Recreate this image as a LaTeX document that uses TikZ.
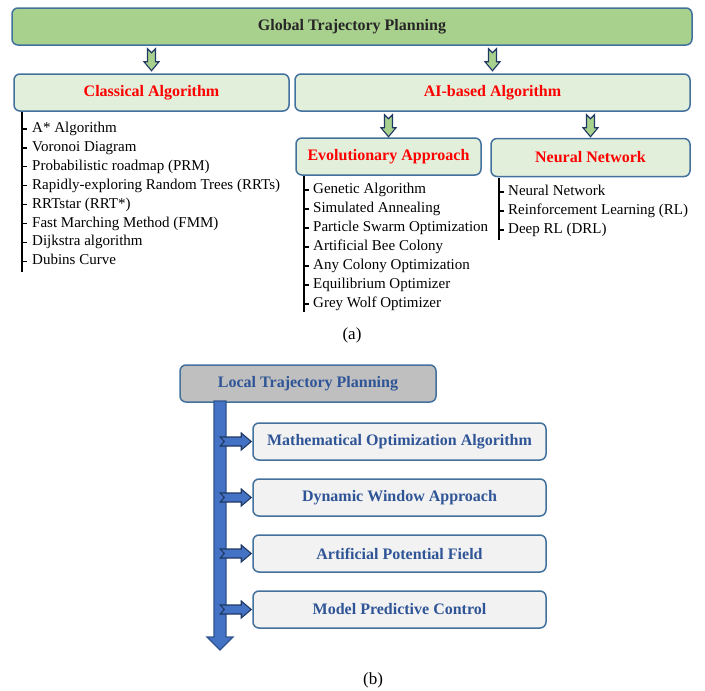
\documentclass[tikz,border=0pt]{standalone}
\usepackage{fontspec}
\setmainfont{Liberation Serif}
\usetikzlibrary{positioning, calc}
\definecolor{tpgreen}{HTML}{A9D18E}
\definecolor{tplight}{HTML}{E2EFDA}
\definecolor{tpedge}{HTML}{41719C}
\definecolor{tpgray}{HTML}{BFBFBF}
\definecolor{tpsoft}{HTML}{F2F2F2}
\definecolor{tpblue}{HTML}{4472C4}
\definecolor{tpnavy}{HTML}{2F528F}
\definecolor{tptext}{HTML}{2F5597}
\definecolor{tpdark}{HTML}{203864}

\begin{document}
\begin{tikzpicture}[x=1pt, y=-1pt,
    box/.style={rectangle, rounded corners=6pt, draw=tpedge, line width=1.5pt, fill=#1, font=\fontsize{16}{19}\selectfont\bfseries, align=center, inner sep=0pt},
    item/.style={anchor=west, inner sep=0pt, text height=10.5pt, text depth=3.5pt, font=\fontsize{15}{18}\selectfont},
    tree/.style={line width=1.3pt},
    downarr/.pic={\draw[fill=tpgreen, draw=tpdark, line width=1.1pt, line join=miter]
        (-4,0) -- (0,4) -- (4,0) -- (4,13) -- (7.5,13) -- (0,22) -- (-7.5,13) -- (-4,13) -- cycle;},
    rightarr/.pic={\draw[fill=tpblue, draw=tpdark, line width=1.1pt, line join=miter]
        (0,-4.5) -- (21,-4.5) -- (21,-8.5) -- (31,0) -- (21,8.5) -- (21,4.5) -- (0,4.5) -- (4,0) -- cycle;}
]
\useasboundingbox (0,0) rectangle (705,691);

% (a) Global planning
\node[box=tpgreen, minimum width=680pt, minimum height=37pt, text=black!85] (glob) at (352,26.5) {Global Trajectory Planning};
\node[box=tplight, minimum width=275pt, minimum height=37pt, text=red] (clas) at (151.5,92.5) {Classical Algorithm};
\node[box=tplight, minimum width=395pt, minimum height=37pt, text=red] (aib) at (492.5,92.5) {AI-based Algorithm};
\node[box=tplight, minimum width=185pt, minimum height=37pt, text=red] (evol) at (388.5,156.5) {Evolutionary Approach};
\node[box=tplight, minimum width=199pt, minimum height=38pt, text=red] (neur) at (590.5,157.5) {Neural Network};

\pic at ($(glob.south -| clas)+(0,3)$) {downarr};
\pic at ($(glob.south -| aib)+(0,3)$) {downarr};
\pic at ($(aib.south -| evol)+(0,3)$) {downarr};
\pic at ($(aib.south -| neur)+(0,3)$) {downarr};

% Lists
\draw[tree] (22,112) -- (22,272);
\foreach \t [count=\i] in {A* Algorithm, Voronoi Diagram, Probabilistic roadmap (PRM), Rapidly-exploring Random Trees (RRTs), RRTstar (RRT*), Fast Marching Method (FMM), Dijkstra algorithm, Dubins Curve}
{
  \node[item] (c\i) at (32,{129+18.9*(\i-1)}) {\t};
  \draw[tree] (22,{129+18.9*(\i-1)}) -- ++(5,0);
}
\draw[tree] (304,176) -- (304,312);
\foreach \t [count=\i] in {Genetic Algorithm, Simulated Annealing, Particle Swarm Optimization, Artificial Bee Colony, Any Colony Optimization, Equilibrium Optimizer, Grey Wolf Optimizer}
{
  \node[item] (e\i) at (313,{190+19*(\i-1)}) {\t};
  \draw[tree] (304,{190+19*(\i-1)}) -- ++(5,0);
}
\draw[tree] (499,178) -- (499,240);
\foreach \t [count=\i] in {Neural Network, Reinforcement Learning (RL), Deep RL (DRL)}
{
  \node[item] (n\i) at (508,{192+19*(\i-1)}) {\t};
  \draw[tree] (499,{192+19*(\i-1)}) -- ++(5,0);
}

\node[font=\fontsize{17}{20}\selectfont] (capa) at (352,335) {(a)};

% (b) Local planning
\node[box=tpgray, minimum width=256pt, minimum height=37pt, text=tptext] (loc) at (308,383.5) {Local Trajectory Planning};
\draw[fill=tpblue, draw=tpnavy, line width=1.1pt, line join=miter]
  (214,401) -- (226,401) -- (226,637) -- (233,637) -- (220,650) -- (207,637) -- (214,637) -- cycle;
\foreach \t [count=\i] in {Mathematical Optimization Algorithm, Dynamic Window Approach, Artificial Potential Field, Model Predictive Control}
{
  \node[box=tpsoft, minimum width=293pt, minimum height=37pt, text=tptext] (m\i) at (399.5,{441.5+56*(\i-1)}) {\t};
  \pic at ($(m\i.west)+(-32,0)$) {rightarr};
}

\node[font=\fontsize{17}{20}\selectfont] (capb) at (373,680) {(b)};
\end{tikzpicture}
\end{document}
